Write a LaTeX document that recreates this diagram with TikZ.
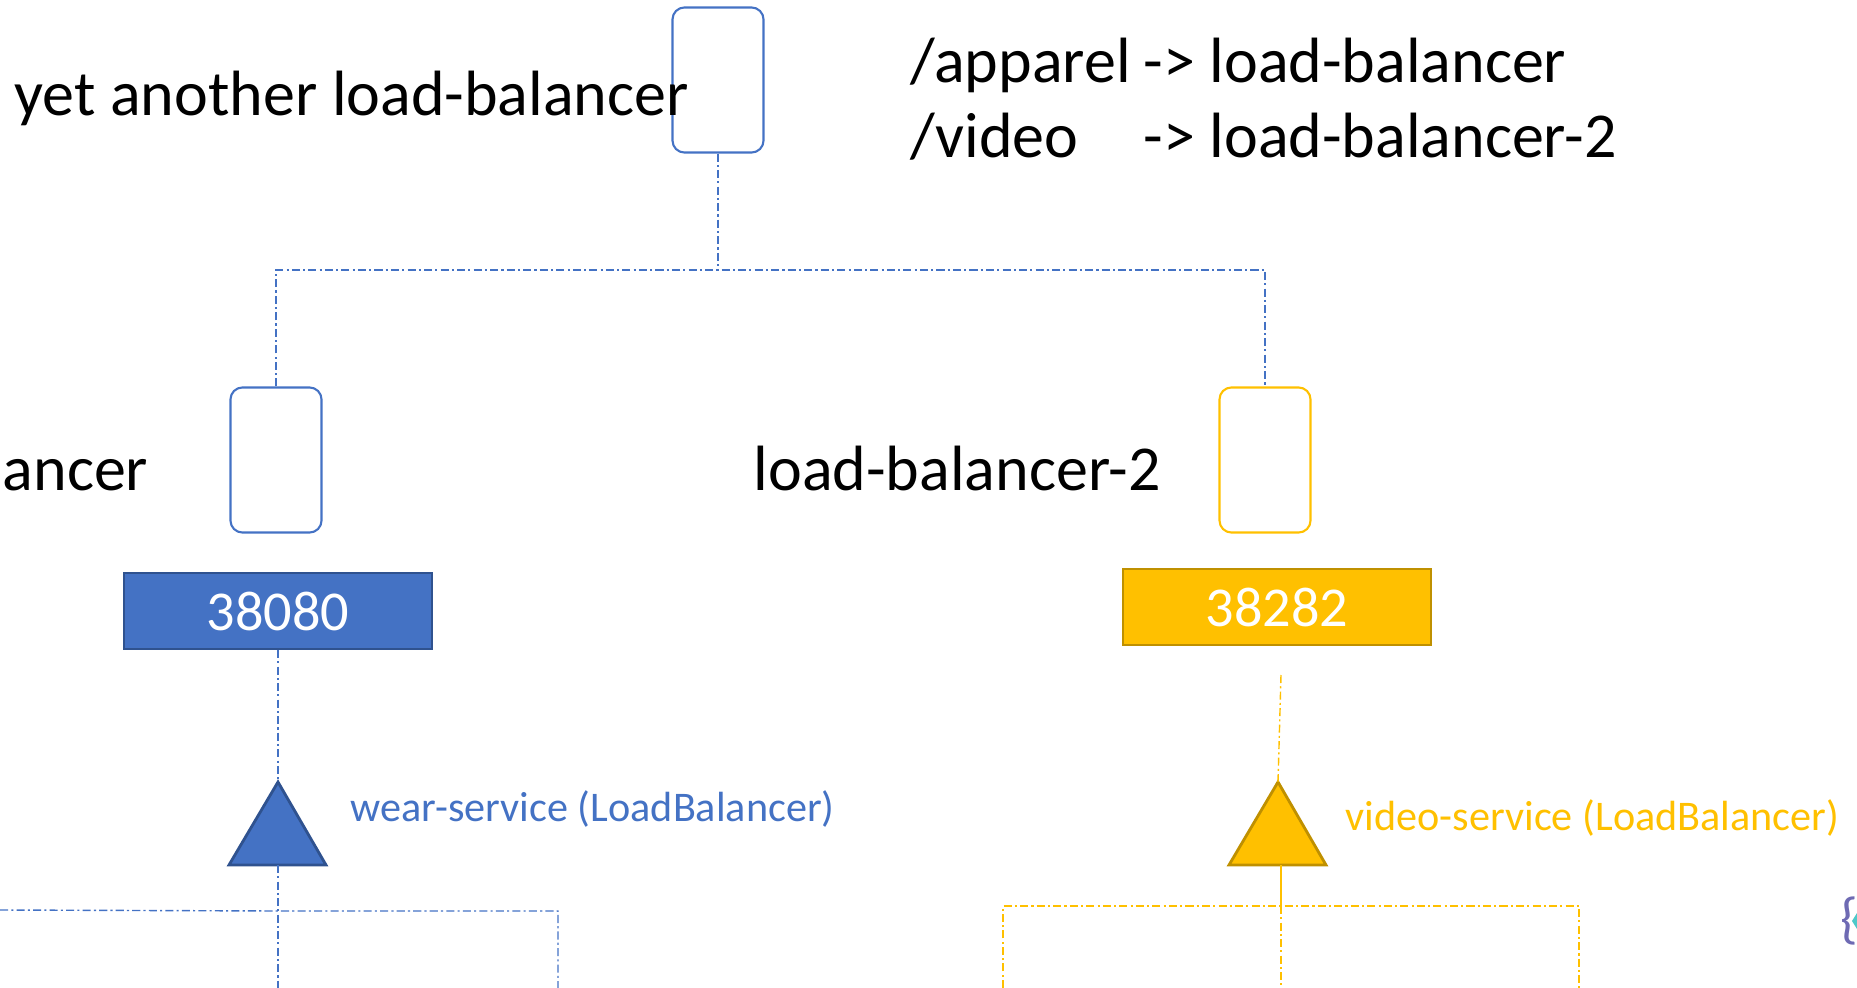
\documentclass[tikz,border=0pt]{standalone}
\usepackage{fontspec}
\setmainfont{Carlito}
\usepackage{tikz}
\tikzset{>=latex}
\usetikzlibrary{calc}
\definecolor{lbblue}{HTML}{4472C4}
\definecolor{lbbluedark}{HTML}{2F528F}
\definecolor{lbgold}{HTML}{FFC000}
\definecolor{lbgolddark}{HTML}{BF9000}
\definecolor{iconpurple}{HTML}{6E6AB3}
\definecolor{iconteal}{HTML}{4DC9C9}

\begin{document}
\begin{tikzpicture}[x=0.01cm, y=-0.01cm]
            \tikzset{pod/.style = {draw, line width=0.6pt, rounded corners=0.12cm, minimum width=0.91cm, minimum height=1.45cm},
                     port/.style = {draw, line width=0.6pt, minimum width=3.08cm, minimum height=0.76cm, text=white, font=\fontsize{16}{19}\selectfont},
                     link/.style = {line width=0.4pt, dash pattern={on 2.3pt off 0.9pt on 0.6pt off 0.9pt}},
                     biglabel/.style = {font=\fontsize{18.2}{21.3}\selectfont, inner sep=0pt, anchor=base west},
                     svclabel/.style = {font=\fontsize{12}{14}\selectfont, inner sep=0pt, anchor=base west}}
            \useasboundingbox (0, 0) rectangle (1857, 988);
            % ingress on top
            \node[pod, lbblue] (topbox) at (718, 80) {};
            \node[biglabel] (toplabel) at (14, 116) {yet another load-balancer};
            \node[biglabel] (pathone) at (910, 83) {/apparel};
            \node[biglabel] (targetone) at (1143, 83) {-> load-balancer};
            \node[biglabel] (pathtwo) at (910, 158) {/video};
            \node[biglabel] (targettwo) at (1143, 158) {-> load-balancer-2};
            % the two load balancers
            \node[pod, lbblue] (lbbox) at (276, 460) {};
            \node[pod, lbgold] (lbtwobox) at (1265, 460) {};
            \node[biglabel, anchor=base east] (lblabel) at (149, 490) {ancer};
            \node[biglabel] (lbtwolabel) at (753, 490) {load-balancer-2};
            \coordinate (split) at (718, 270);
            \draw[link, lbblue] (topbox.south) -- (split);
            \draw[link, lbblue] (lbbox.north) |- (split) -| (lbtwobox.north);
            % ports
            \node[port, draw=lbbluedark, fill=lbblue] (portone) at (278, 611) {38080};
            \node[port, draw=lbgolddark, fill=lbgold] (porttwo) at (1277, 607) {38282};
            % services
            \foreach \name/\x/\col/\dcol in {one/278/lbblue/lbbluedark, two/1278/lbgold/lbgolddark} {
                \coordinate (tri\name top) at (\x, 782);
                \coordinate (tri\name base) at (\x, 865);
                \draw[line width=0.8pt, draw=\dcol, fill=\col, line join=miter] (\x - 49, 865) -- (tri\name top) -- (\x + 48, 865) -- cycle;
            }
            \node[svclabel, text=lbblue] (svcone) at (350, 821) {wear-service (LoadBalancer)};
            \node[svclabel, text=lbgold] (svctwo) at (1345, 830) {video-service (LoadBalancer)};
            \draw[link, lbblue] (portone.south) -- (trionetop);
            \coordinate (gaptwo) at (1281, 675);
            \draw[link, lbgold] (gaptwo) -- (tritwotop);
            % blue endpoints
            \coordinate (joinone) at (278, 911);
            \coordinate (leafonea) at (0, 910);
            \coordinate (leafoneb) at (278, 988);
            \coordinate (leafonec) at (558, 988);
            \draw[link, lbblue] (trionebase) -- (leafoneb);
            \draw[link, lbblue] (leafonea) -- (joinone) -| (leafonec);
            % gold endpoints
            \coordinate (jointwo) at (1281, 906);
            \coordinate (leaftwoa) at (1003, 988);
            \coordinate (leaftwob) at (1281, 988);
            \coordinate (leaftwoc) at (1579, 988);
            \draw[line width=0.4pt, lbgold] (tritwobase -| jointwo) -- (jointwo);
            \draw[link, lbgold] (jointwo) -- (leaftwob);
            \draw[link, lbgold] (leaftwoa) |- (jointwo) -| (leaftwoc);
            % clipped icon at the right edge
            \node[anchor=west, inner sep=0pt, text=iconpurple, font=\fontsize{16}{19}\selectfont] (icon) at (1840, 921) {\{};
            \fill[iconteal] (1857, 913) -- (1852, 921) -- (1857, 929) -- cycle;
        \end{tikzpicture}
\end{document}
